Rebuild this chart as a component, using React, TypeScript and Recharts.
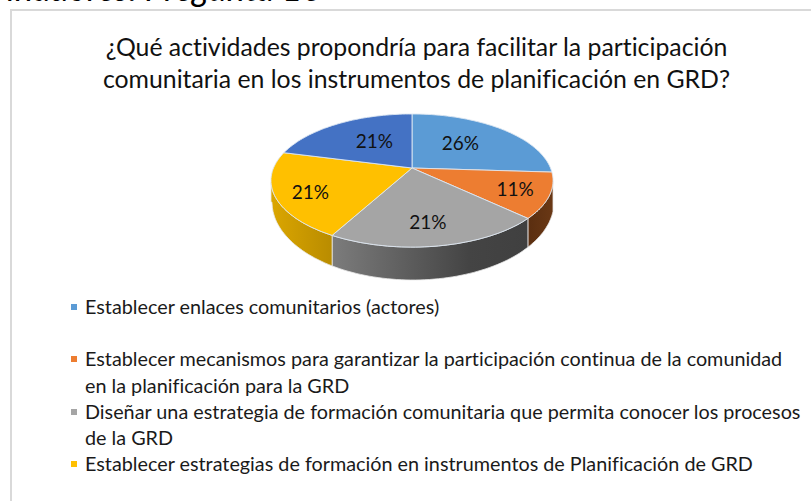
import { PieChart, Pie, Cell, Legend } from "recharts";

const categories = [
  "Establecer enlaces comunitarios (actores)",
  "Establecer mecanismos para garantizar la participación continua de la comunidad en la planificación para la GRD",
  "Diseñar una estrategia de formación comunitaria que permita conocer los procesos de la GRD",
  "Establecer estrategias de formación en instrumentos de Planificación de GRD",
  "",
];
const shares = [26, 11, 21, 21, 21];
const colors = ["#5B9BD5", "#ED7D31", "#A5A5A5", "#FFC000", "#4472C4"];
const wallFills = ["#2f5f8f", "url(#wallOrange)", "url(#wallGray)", "url(#wallYellow)", "#2c4a80"];

const title = [
  "¿Qué actividades propondría para facilitar la participación",
  "comunitaria en los instrumentos de planificación en GRD?",
];

const data = categories.map((name, i) => ({ name, value: shares[i] }));

// the flattened pie: a circle seen in perspective, apex sits above the ellipse centre
const TILT = 0.188;
const SQUASH = 0.4636;
const FONT = "Lato, sans-serif";

function project(cx: number, cy: number, r: number, chartAngle: number) {
  const t = ((90 - chartAngle) * Math.PI) / 180;
  const d = 1 + TILT * Math.cos(t);
  return { x: cx + (r * Math.sin(t)) / d, y: cy - (r * SQUASH * Math.cos(t)) / d };
}

// lower rim of the side wall, a deeper ellipse than the top face
function rimY(x: number, cx: number) {
  const u = Math.min(1, Math.abs(x - (cx + 1)) / 141);
  return 202 + 78 * Math.sqrt(1 - u * u);
}

function PieSlice(props: any) {
  const { cx, cy, outerRadius: r, startAngle, endAngle, fill, index } = props;
  const steps = 48;
  const top = [];
  for (let i = 0; i <= steps; i++) {
    top.push(project(cx, cy, r, startAngle + ((endAngle - startAngle) * i) / steps));
  }
  const face =
    `M${cx},${cy} ` + top.map((p) => `L${p.x.toFixed(1)},${p.y.toFixed(1)}`).join(" ") + " Z";

  // only the part of the wall that faces the viewer
  const front = top.filter((_, i) => {
    const a = startAngle + ((endAngle - startAngle) * i) / steps;
    return Math.sin((a * Math.PI) / 180) < -TILT;
  });
  let wall = null;
  if (front.length > 1) {
    const pts = [...front, ...[...front].reverse().map((p) => ({ x: p.x, y: rimY(p.x, cx) }))];
    wall = (
      <path
        d={"M" + pts.map((p) => `${p.x.toFixed(1)},${p.y.toFixed(1)}`).join(" L") + " Z"}
        fill={wallFills[index]}
        stroke="#e8e8e8"
        strokeWidth={0.8}
      />
    );
  }
  return (
    <g>
      {wall}
      <path d={face} fill={fill} stroke="#dce6f2" strokeWidth={0.9} />
    </g>
  );
}

const labelReachX = [0.54, 0.75, 0.6, 0.74, 0.51];
const labelReachY = [0.66, 0.75, 0.69, 0.85, 0.62];

function PieLabel(props: any) {
  const { cx, cy, outerRadius: r, midAngle, index, value } = props;
  const p = project(0, 0, r, midAngle);
  return (
    <text
      x={cx + p.x * labelReachX[index]}
      y={cy + p.y * labelReachY[index]}
      textAnchor="middle"
      dominantBaseline="central"
      fontFamily={FONT}
      fontSize={19}
      fill="#111"
    >
      {value}%
    </text>
  );
}

function LegendList({ payload }: any) {
  return (
    <div style={{ fontFamily: FONT, fontSize: 19.8, lineHeight: "26.3px", color: "#1a1a1a", fontVariantLigatures: "none", textAlign: "left" }}>
      {(payload || [])
        .filter((e: any) => e.value)
        .map((e: any, i: number) => (
          <div key={i} style={{ position: "relative", paddingLeft: 14, marginBottom: i === 0 ? 26 : 0 }}>
            <span
              style={{
                position: "absolute",
                left: 0,
                top: 11,
                width: 6,
                height: 6,
                background: e.color,
              }}
            />
            {e.value}
          </div>
        ))}
    </div>
  );
}

export default function App() {
  return (
    <div style={{ position: "absolute", left: 0, top: 0, width: 811, height: 501, overflow: "hidden", background: "#fff" }}>
      <div
        style={{
          position: "absolute",
          left: 7,
          top: -33,
          fontFamily: FONT,
          fontStyle: "italic",
          fontSize: 34.5,
          color: "#000",
          whiteSpace: "nowrap",
        }}
      >
        inadores: Pregunta 16
      </div>
      <div style={{ position: "absolute", left: 10, top: 9, width: 801, height: 492, borderLeft: "2px solid #d9d9d9", borderTop: "2px solid #d9d9d9", boxSizing: "border-box" }} />
      <div
        style={{
          position: "absolute",
          left: 23,
          top: 31,
          width: 787,
          textAlign: "center",
          fontFamily: FONT,
          fontSize: 24.8,
          lineHeight: "32px",
          color: "#111",
          fontVariantLigatures: "none",
        }}
      >
        {title.map((t) => (
          <div key={t}>{t}</div>
        ))}
      </div>
      <div style={{ position: "absolute", left: 0, top: 0 }}>
        <PieChart width={811} height={501} margin={{ top: 0, right: 0, bottom: 0, left: 0 }}>
          <defs>
            <linearGradient id="wallGray" x1="0" y1="0" x2="1" y2="0">
              <stop offset="0" stopColor="#7c7c7c" />
              <stop offset="0.7" stopColor="#444" />
              <stop offset="1" stopColor="#404040" />
            </linearGradient>
            <linearGradient id="wallYellow" x1="0" y1="0" x2="1" y2="0">
              <stop offset="0" stopColor="#dba600" />
              <stop offset="1" stopColor="#b98c00" />
            </linearGradient>
            <linearGradient id="wallOrange" x1="0" y1="0" x2="1" y2="0">
              <stop offset="0" stopColor="#5a2e10" />
              <stop offset="1" stopColor="#6a3815" />
            </linearGradient>
          </defs>
          <Pie
            data={data}
            dataKey="value"
            nameKey="name"
            cx={412}
            cy={168}
            outerRadius={138.5}
            startAngle={90}
            endAngle={-270}
            shape={PieSlice}
            label={PieLabel}
            labelLine={false}
            isAnimationActive={false}
          >
            {data.map((d, i) => (
              <Cell key={d.name + i} fill={colors[i]} />
            ))}
          </Pie>
          <Legend
            layout="vertical"
            align="center"
            verticalAlign="middle"
            itemSorter={null}
            content={LegendList}
            wrapperStyle={{ left: 71, top: 293, width: 733 }}
          />
        </PieChart>
      </div>
    </div>
  );
}
